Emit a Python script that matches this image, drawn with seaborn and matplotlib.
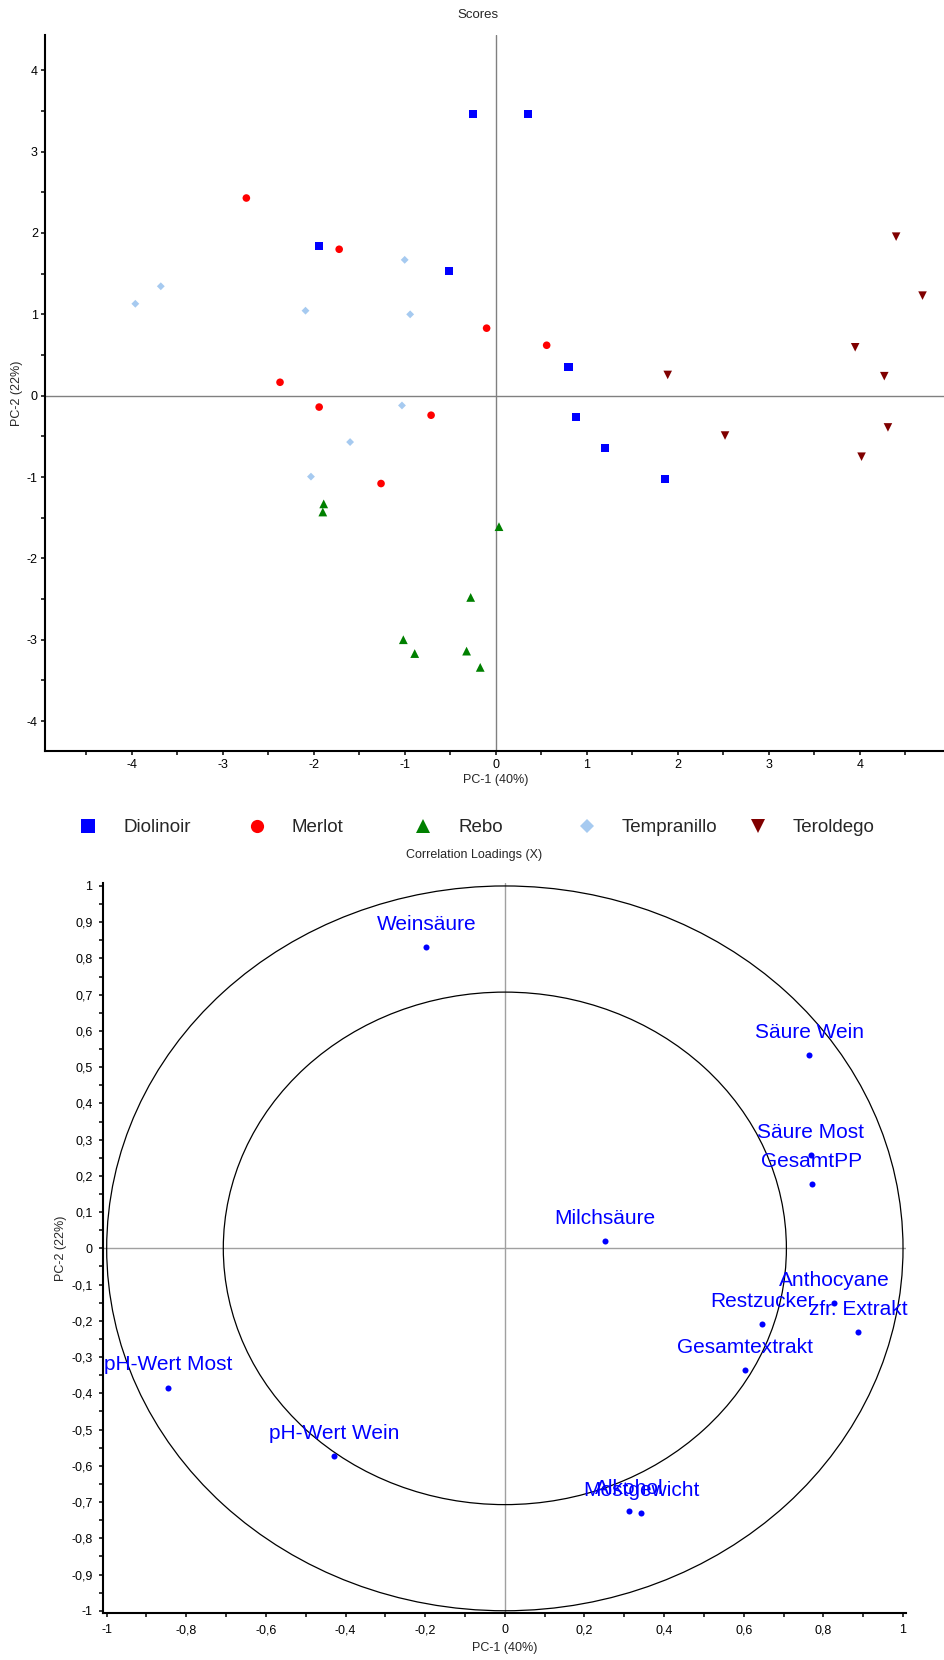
import numpy as np
import pandas as pd
import matplotlib
matplotlib.use("Agg")
import matplotlib.pyplot as plt
import seaborn as sns
from matplotlib.lines import Line2D
from matplotlib.patches import Circle
from matplotlib.ticker import MultipleLocator, FuncFormatter

# ---------------- data ----------------
cultivars = ["Diolinoir", "Merlot", "Rebo", "Tempranillo", "Teroldego"]
diolinoir_pc1 = [-0.25, 0.355, -1.94, -0.51, 0.80, 0.88, 1.20, 1.86]
diolinoir_pc2 = [3.46, 3.46, 1.84, 1.53, 0.35, -0.26, -0.64, -1.02]
merlot_pc1 = [-2.74, -1.72, -0.10, 0.56, -2.37, -1.94, -0.71, -1.26]
merlot_pc2 = [2.43, 1.80, 0.83, 0.62, 0.165, -0.14, -0.24, -1.08]
rebo_pc1 = [-1.89, -1.90, 0.036, -0.275, -1.015, -0.89, -0.32, -0.17]
rebo_pc2 = [-1.33, -1.43, -1.61, -2.48, -3.00, -3.17, -3.14, -3.34]
tempranillo_pc1 = [-3.96, -3.68, -2.09, -1.00, -0.94, -1.03, -1.60, -2.03]
tempranillo_pc2 = [1.13, 1.345, 1.045, 1.67, 1.00, -0.12, -0.57, -0.995]
teroldego_pc1 = [4.40, 4.69, 3.95, 4.27, 1.89, 2.52, 4.31, 4.02]
teroldego_pc2 = [1.955, 1.23, 0.595, 0.24, 0.255, -0.49, -0.39, -0.75]

variables = ["Weinsäure", "Säure Wein", "Säure Most", "GesamtPP", "Milchsäure",
             "Anthocyane", "zfr. Extrakt", "Restzucker", "Gesamtextrakt",
             "pH-Wert Most", "pH-Wert Wein", "Alkohol", "Mostgewicht"]
load_pc1 = [-0.197, 0.765, 0.768, 0.771, 0.252, 0.827, 0.887, 0.646, 0.602,
            -0.846, -0.429, 0.313, 0.342]
load_pc2 = [0.831, 0.534, 0.258, 0.177, 0.020, -0.151, -0.231, -0.209, -0.337,
            -0.384, -0.573, -0.725, -0.731]

x_ticks_scores = [-4, -3, -2, -1, 0, 1, 2, 3, 4]
y_ticks_scores = [-4, -3, -2, -1, 0, 1, 2, 3, 4]

# ---------------- styling ----------------
palette = {"Diolinoir": "#0000FF", "Merlot": "#FF0000", "Rebo": "#008000",
           "Tempranillo": "#A6CAF0", "Teroldego": "#800000"}
markers = {"Diolinoir": "s", "Merlot": "o", "Rebo": "^",
           "Tempranillo": "D", "Teroldego": "v"}
sizes = {"Diolinoir": 34, "Merlot": 30, "Rebo": 40,
         "Tempranillo": 16, "Teroldego": 38}

sns.set_style("ticks")
plt.rcParams["font.family"] = ["Liberation Sans", "DejaVu Sans"]
plt.rcParams["axes.unicode_minus"] = False

pcs1 = [diolinoir_pc1, merlot_pc1, rebo_pc1, tempranillo_pc1, teroldego_pc1]
pcs2 = [diolinoir_pc2, merlot_pc2, rebo_pc2, tempranillo_pc2, teroldego_pc2]
scores = pd.DataFrame({
    "PC1": np.concatenate(pcs1),
    "PC2": np.concatenate(pcs2),
    "cultivar": np.repeat(cultivars, [len(p) for p in pcs1]),
})
loadings = pd.DataFrame({"PC1": load_pc1, "PC2": load_pc2, "var": variables})

W, H = 945, 1660
fig = plt.figure(figsize=(W / 100, H / 100), dpi=100)


def axes_px(left, top, right, bottom):
    return fig.add_axes([left / W, 1 - bottom / H, (right - left) / W, (bottom - top) / H])


def style_axes(ax):
    for s in ["top", "right"]:
        ax.spines[s].set_visible(False)
    for s in ["left", "bottom"]:
        ax.spines[s].set_linewidth(1.5)
        ax.spines[s].set_color("black")
    ax.tick_params(which="both", direction="out", length=3, width=1.1,
                   color="black", labelsize=9, labelcolor="black")
    ax.grid(False)


# ---------------- Scores ----------------
ax1 = axes_px(45.5, 35, 945, 751)
ax1.axhline(0, color="#808080", lw=1.0, zorder=1)
ax1.axvline(0, color="#808080", lw=1.0, zorder=1)
sns.scatterplot(data=scores, x="PC1", y="PC2", hue="cultivar", style="cultivar",
                size="cultivar", palette=palette, markers=markers, sizes=sizes,
                hue_order=cultivars, style_order=cultivars, size_order=cultivars,
                linewidth=0, legend=False, ax=ax1, zorder=3)
ax1.set_xlim(-4.947, 4.937)
ax1.set_ylim(-4.368, 4.434)
ax1.set_xticks(x_ticks_scores)
ax1.set_yticks(y_ticks_scores)
ax1.xaxis.set_minor_locator(MultipleLocator(0.5))
ax1.yaxis.set_minor_locator(MultipleLocator(0.5))
style_axes(ax1)
ax1.tick_params(axis="x", pad=3)
ax1.tick_params(axis="y", pad=2.5)
ax1.set_xlabel("PC-1 (40%)", fontsize=9, labelpad=2)
ax1.set_ylabel("PC-2 (22%)", fontsize=9, labelpad=3)
fig.text(478 / W, 1 - 15 / H, "Scores", ha="center", va="center", fontsize=9.5)

# ---------------- legend ----------------
legend_x = [88.3, 256.7, 423, 587, 758]
for name, xc in zip(cultivars, legend_x):
    h = Line2D([], [], linestyle="none", marker=markers[name], color=palette[name],
               markeredgewidth=0,
               markersize=9.5 if markers[name] != "D" else 7)
    lg = fig.legend(handles=[h], labels=[name], loc="center left",
                    bbox_to_anchor=((xc - 9.4) / W, 1 - 827.7 / H),
                    frameon=False, fontsize=13.5, handlelength=1.0,
                    handletextpad=1.37, borderpad=0, borderaxespad=0)

fig.text(474 / W, 1 - 855 / H, "Correlation Loadings (X)", ha="center",
         va="center", fontsize=9)

# ---------------- Correlation loadings ----------------
ax2 = axes_px(102.7, 882.7, 906, 1613.3)
ax2.axhline(0, color="#A0A0A0", lw=1.0, zorder=1)
ax2.axvline(0, color="#A0A0A0", lw=1.0, zorder=1)
for r in [1.0, np.sqrt(0.5)]:
    ax2.add_patch(Circle((0, 0), r, fill=False, edgecolor="black", lw=0.9, zorder=2))
sns.scatterplot(data=loadings, x="PC1", y="PC2", color="#0000FF", s=19,
                linewidth=0, legend=False, ax=ax2, zorder=3)
for _, row in loadings.iterrows():
    ax2.annotate(row["var"], (row["PC1"], row["PC2"]), xytext=(0, 12.3),
                 textcoords="offset points", ha="center", va="baseline",
                 color="#0000FF", fontsize=15, zorder=4)
ax2.set_xlim(-1.01, 1.0075)
ax2.set_ylim(-1.007, 1.009)
ax2.xaxis.set_major_locator(MultipleLocator(0.2))
ax2.xaxis.set_minor_locator(MultipleLocator(0.1))
ax2.yaxis.set_major_locator(MultipleLocator(0.1))
ax2.yaxis.set_minor_locator(MultipleLocator(0.05))


def comma_fmt(v, pos):
    v = round(v, 2)
    if abs(v) < 1e-9:
        return "0"
    return ("%g" % v).replace(".", ",")


ax2.xaxis.set_major_formatter(FuncFormatter(comma_fmt))
ax2.yaxis.set_major_formatter(FuncFormatter(comma_fmt))
style_axes(ax2)
ax2.tick_params(axis="x", pad=5)
ax2.tick_params(axis="y", pad=4.3)
ax2.set_xlabel("PC-1 (40%)", fontsize=9, labelpad=4)
ax2.set_ylabel("PC-2 (22%)", fontsize=9, labelpad=3)

fig.savefig("out.png", dpi=100)
